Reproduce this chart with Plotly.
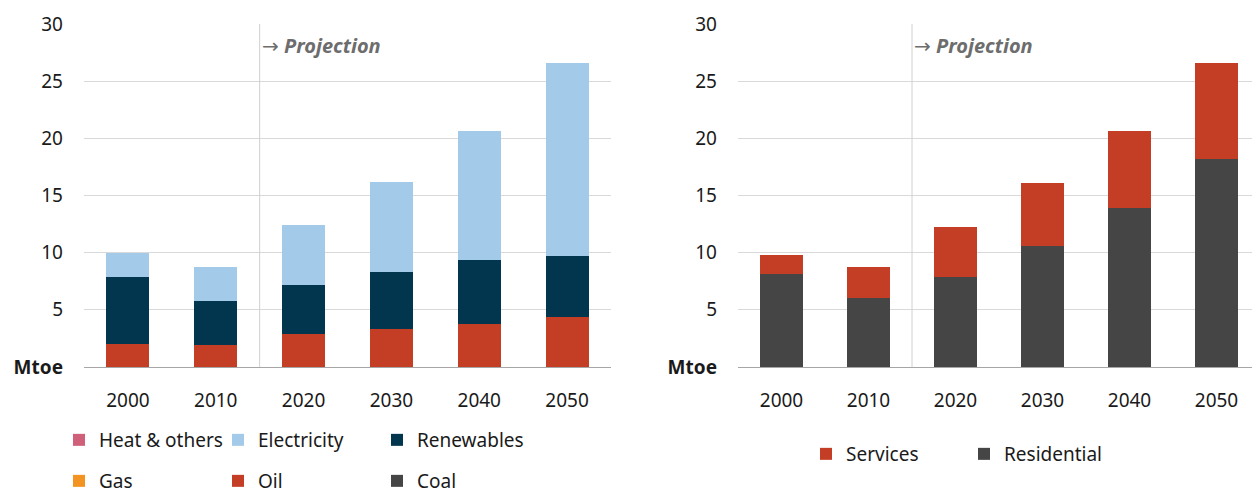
import plotly.graph_objects as go

# years shown on both panels
years = [2000, 2010, 2020, 2030, 2040, 2050]

# left panel: final consumption by fuel (Mtoe)
coal = [0, 0, 0, 0, 0, 0]
oil = [2.0, 1.92, 2.86, 3.32, 3.76, 4.37]
gas = [0, 0, 0, 0, 0, 0]
renewables = [5.9, 3.85, 4.31, 5.02, 5.63, 5.37]
electricity = [2.05, 3.01, 5.23, 7.86, 11.21, 16.86]
heat_others = [0, 0, 0, 0, 0, 0]

# right panel: by sector (Mtoe)
residential = [8.13, 6.06, 7.89, 10.6, 13.87, 18.2]
services = [1.66, 2.71, 4.37, 5.48, 6.73, 8.4]

ytick_vals = [0, 5, 10, 15, 20, 25, 30]
ytick_text = ["<b>Mtoe</b>", "5", "10", "15", "20", "25", "30"]

FONT = "Noto Sans"
# the page body adds an 8px margin, so the figure is a bit smaller than the window
OFF = 8
W, H = 1260 - OFF, 494 - OFF


def px(x):
    return (x - OFF) / W


def py(y):
    return 1 - (y - OFF) / H


fig = go.Figure()

left = [
    ("Coal", coal, "#454545", "legend2"),
    ("Oil", oil, "#c43e26", "legend2"),
    ("Gas", gas, "#f39322", "legend2"),
    ("Renewables", renewables, "#02364f", "legend"),
    ("Electricity", electricity, "#a4cae9", "legend"),
    ("Heat & others", heat_others, "#d0607a", "legend"),
]
for name, vals, col, leg in left:
    fig.add_trace(go.Bar(x=years, y=vals, name=name, marker_color=col,
                         xaxis="x", yaxis="y", legend=leg, width=4.9))

right = [
    ("Residential", residential, "#454545"),
    ("Services", services, "#c43e26"),
]
for name, vals, col in right:
    fig.add_trace(go.Bar(x=years, y=vals, name=name, marker_color=col,
                         xaxis="x2", yaxis="y2", legend="legend3", width=4.9))

fig.update_traces(marker_line_width=0)

ydom = [py(367), py(24)]
xcommon = dict(tickvals=years, range=[1995, 2055], showgrid=False,
               showline=True, linecolor="#a6a6a6", linewidth=1,
               ticks="", ticklabelstandoff=16, automargin=False,
               tickfont=dict(family=FONT, size=19, color="#1a1a1a"))
ycommon = dict(range=[0, 30], tickvals=ytick_vals, ticktext=ytick_text,
               showgrid=True, gridcolor="#d9d9d9", zeroline=False,
               ticklabelstandoff=20, automargin=False,
               tickfont=dict(family=FONT, size=19, color="#1a1a1a"))

leg_common = dict(orientation="h", font=dict(family=FONT, size=19, color="#1a1a1a"),
                  bgcolor="rgba(0,0,0,0)", itemwidth=30, entrywidthmode="pixels",
                  traceorder="reversed", xanchor="left", yanchor="middle",
                  itemclick=False, itemdoubleclick=False)

fig.update_layout(
    width=W, height=H,
    margin=dict(l=0, r=0, t=0, b=0, autoexpand=False),
    plot_bgcolor="white", paper_bgcolor="white",
    barmode="stack",
    font=dict(family=FONT),
    xaxis=dict(domain=[px(84), px(611)], anchor="y", **xcommon),
    yaxis=dict(domain=ydom, anchor="x", **ycommon),
    xaxis2=dict(domain=[px(738), 1.0], anchor="y2", **xcommon),
    yaxis2=dict(domain=ydom, anchor="x2", **ycommon),
    legend=dict(x=px(59), y=py(440), entrywidth=114, **leg_common),
    legend2=dict(x=px(59), y=py(481), entrywidth=114, **leg_common),
    legend3=dict(x=px(806), y=py(454), entrywidth=113, **leg_common),
)

# projection divider and label on both panels
for xa, ya in [("x", "y"), ("x2", "y2")]:
    fig.add_shape(type="line", xref=xa, yref=ya, x0=2015, x1=2015, y0=0, y1=30,
                  line=dict(color="#d0d0d0", width=1))
    fig.add_annotation(xref=xa, yref=ya, x=2015, y=28.1, xanchor="left", yanchor="middle",
                       showarrow=False,
                       text="<span style='font-family:DejaVu Sans'>\u2192</span> <b><i>Projection</i></b>",
                       font=dict(family=FONT, size=20, color="#6d6d6d"))

fig.write_html("out.html")
